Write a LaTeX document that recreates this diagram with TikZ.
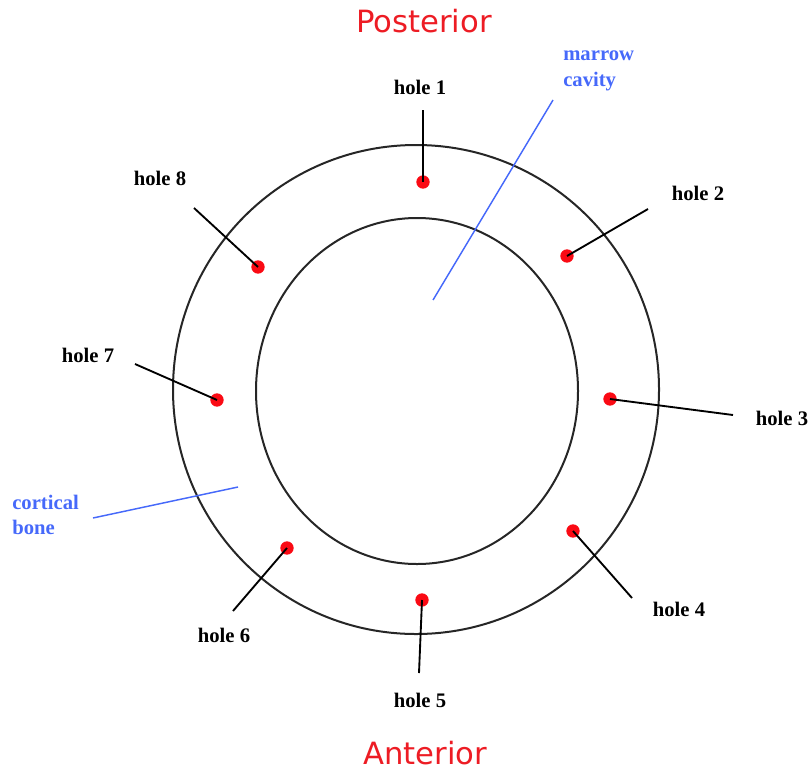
\documentclass[tikz,border=0pt]{standalone}
\usepackage{fontspec}
\setmainfont{Liberation Serif}
\newfontfamily\sidefont{DejaVu Sans}
\usepackage{xcolor}
\definecolor{sidered}{RGB}{237,28,36}
\definecolor{dotred}{RGB}{250,10,20}
\definecolor{tagblue}{RGB}{70,105,250}

\begin{document}
\begin{tikzpicture}[x=0.75pt,y=-0.75pt,
  hole/.style={circle,fill=dotred,inner sep=0pt,minimum size=10pt},
  holetag/.style={inner sep=0pt,font=\fontsize{15.5}{18}\selectfont\bfseries},
  tissue/.style={inner sep=0pt,align=left,anchor=west,text=tagblue,
                 font=\fontsize{15.5}{19}\selectfont\bfseries},
  side/.style={inner sep=0pt,anchor=base,text=sidered,
               font=\sidefont\fontsize{23}{26}\selectfont},
  lead/.style={black,line width=1.4pt},
  bluelead/.style={tagblue,line width=1.1pt}]
\useasboundingbox (0,0) rectangle (812,774);

% bone rings
\draw [line width=1.5pt, black!85] (416,389.5) circle [x radius=243, y radius=244.5];
\draw [line width=1.5pt, black!85] (417,391) circle [x radius=161, y radius=173];

% orientation
\node [side] (post) at (424,33) {Posterior};
\node [side] (ant) at (425,764) {Anterior};

% holes
\node [hole] (h1) at (423,182) {};
\node [hole] (h2) at (567,256) {};
\node [hole] (h3) at (610,399) {};
\node [hole] (h4) at (573,531) {};
\node [hole] (h5) at (422,600) {};
\node [hole] (h6) at (287,548) {};
\node [hole] (h7) at (217,400) {};
\node [hole] (h8) at (258,267) {};

% hole labels
\node [holetag] (t1) at (420,87) {hole 1};
\node [holetag] (t2) at (698,193) {hole 2};
\node [holetag] (t3) at (782,418) {hole 3};
\node [holetag] (t4) at (679,609) {hole 4};
\node [holetag] (t5) at (420,700) {hole 5};
\node [holetag] (t6) at (224,635) {hole 6};
\node [holetag] (t7) at (88,355) {hole 7};
\node [holetag] (t8) at (160,178) {hole 8};

% free ends of the leaders
\coordinate (e1) at (423,110);
\coordinate (e2) at (648,209);
\coordinate (e3) at (733,415);
\coordinate (e4) at (632,598);
\coordinate (e5) at (419,673);
\coordinate (e6) at (233,611);
\coordinate (e7) at (135,364);
\coordinate (e8) at (194,208);

\draw [lead] (e1) -- (h1.center);
\draw [lead] (e2) -- (h2.center);
\draw [lead] (e3) -- (h3.center);
\draw [lead] (e4) -- (h4.center);
\draw [lead] (e5) -- (h5.center);
\draw [lead] (e6) -- (h6.center);
\draw [lead] (e7) -- (h7.center);
\draw [lead] (e8) -- (h8.center);

% tissue labels
\node [tissue] (marrow) at (563,71) {marrow\\cavity};
\node [tissue] (cortex) at (12,515) {cortical\\bone};
\coordinate (m0) at (553,100);
\coordinate (m1) at (433,300);
\coordinate (c0) at (93,518);
\coordinate (c1) at (238,487);
\draw [bluelead] (m0) -- (m1);
\draw [bluelead] (c0) -- (c1);
\end{tikzpicture}
\end{document}
